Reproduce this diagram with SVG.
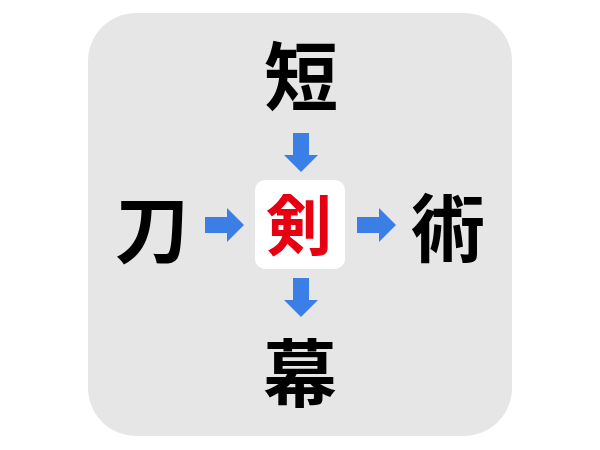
<svg xmlns="http://www.w3.org/2000/svg" width="600" height="450" viewBox="0 0 600 450">
<style>
.ch{font-family:"Noto Sans CJK JP","Noto Sans CJK SC",sans-serif;font-weight:bold;font-size:74px;fill:#000;text-anchor:middle}
.mid{fill:#e60012;font-size:66px}
.arr{fill:#3b7fe6}
</style>
<defs>
<path id="ar" d="M-19,-8 H3 V-17 L20,0 L3,17 V8 H-19 Z"/>
</defs>
<rect width="600" height="450" fill="#ffffff"/>
<rect x="88" y="13" width="424" height="423" rx="48" fill="#e6e6e6"/>
<g id="connectors">
<use href="#ar" class="arr" transform="translate(224,225)"/>
<use href="#ar" class="arr" transform="translate(376,225)"/>
<use href="#ar" class="arr" transform="translate(301,152) rotate(90)"/>
<use href="#ar" class="arr" transform="translate(301,297) rotate(90)"/>
</g>
<g id="node-top"><text class="ch" x="301" y="104">短</text></g>
<g id="node-left"><text class="ch" x="152" y="257">刀</text></g>
<g id="node-right"><text class="ch" x="448" y="256">術</text></g>
<g id="node-bottom"><text class="ch" x="300" y="401">幕</text></g>
<g id="node-center">
<rect x="255" y="180" width="90" height="89" rx="10" fill="#ffffff"/>
<text class="ch mid" x="299" y="250">剣</text>
</g>
</svg>
